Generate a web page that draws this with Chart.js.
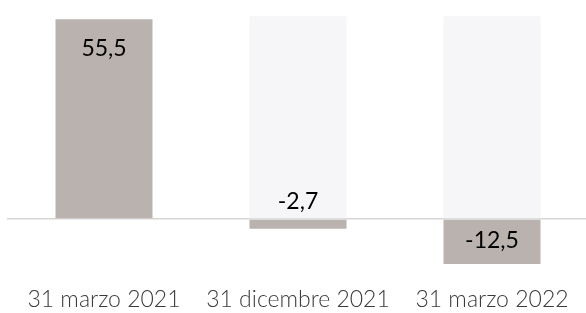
<!DOCTYPE html>
<html>
<head>
<meta charset="utf-8">
<script src="https://cdn.jsdelivr.net/npm/chart.js@4"></script>
<style>
  html, body { margin: 0; padding: 0; background: #fff; overflow: hidden; }
  #wrap { width: 589px; height: 313px; position: relative; }
</style>
</head>
<body>
<div id="wrap"><canvas id="c"></canvas></div>
<script>
const categories = ['31 marzo 2021', '31 dicembre 2021', '31 marzo 2022'];
const values = [55.5, -2.7, -12.5];
const backgroundValues = [56.3, 56.3, 56.3];
const valueLabels = ['55,5', '-2,7', '-12,5'];

const labelFont = "'Lato', 'Open Sans', sans-serif";

const valueLabelPlugin = {
  id: 'valueLabels',
  afterDatasetsDraw(chart) {
    const ctx = chart.ctx;
    const meta = chart.getDatasetMeta(1);
    const yScale = chart.scales.y;
    const zero = yScale.getPixelForValue(0);
    ctx.save();
    ctx.font = "23px " + labelFont;
    ctx.fillStyle = '#000';
    ctx.textAlign = 'center';
    ctx.textBaseline = 'middle';
    meta.data.forEach((bar, i) => {
      const v = values[i];
      let y;
      if (v >= 0) {
        y = bar.y + 29;
      } else if (bar.y - zero > 35) {
        y = zero + 22;
      } else {
        y = zero - 17;
      }
      ctx.fillText(valueLabels[i], bar.x, y);
    });
    ctx.restore();
  }
};

new Chart(document.getElementById('c'), {
  type: 'bar',
  data: {
    labels: categories,
    datasets: [
      {
        data: backgroundValues.map((v, i) => (values[i] >= 0 ? null : v)),
        backgroundColor: '#f6f6f9',
        borderWidth: 0,
        order: 2
      },
      {
        data: values,
        backgroundColor: '#bab2ae',
        borderWidth: 0,
        order: 1
      }
    ]
  },
  options: {
    responsive: true,
    maintainAspectRatio: false,
    animation: false,
    devicePixelRatio: 1,
    layout: { padding: { left: 7, right: 0, top: 3, bottom: 0 } },
    datasets: { bar: { grouped: false, categoryPercentage: 1, barPercentage: 0.5 } },
    plugins: { legend: { display: false }, tooltip: { enabled: false }, title: { display: false } },
    scales: {
      x: {
        grid: { display: false, drawTicks: false },
        border: { display: false },
        afterFit: (scale) => { scale.height = 40; },
        ticks: {
          padding: 13,
          color: '#3a3a3a',
          font: { family: labelFont, size: 23, weight: '300' },
          maxRotation: 0,
          autoSkip: false
        }
      },
      y: {
        display: true,
        min: -15,
        max: 60,
        border: { display: false },
        grid: {
          drawTicks: false,
          color: (c) => (c.tick && c.tick.value === 0 ? '#d6d6d6' : 'rgba(0,0,0,0)'),
          lineWidth: 1.5
        },
        ticks: { display: false, stepSize: 5 }
      }
    }
  },
  plugins: [valueLabelPlugin]
});
</script>
</body>
</html>
